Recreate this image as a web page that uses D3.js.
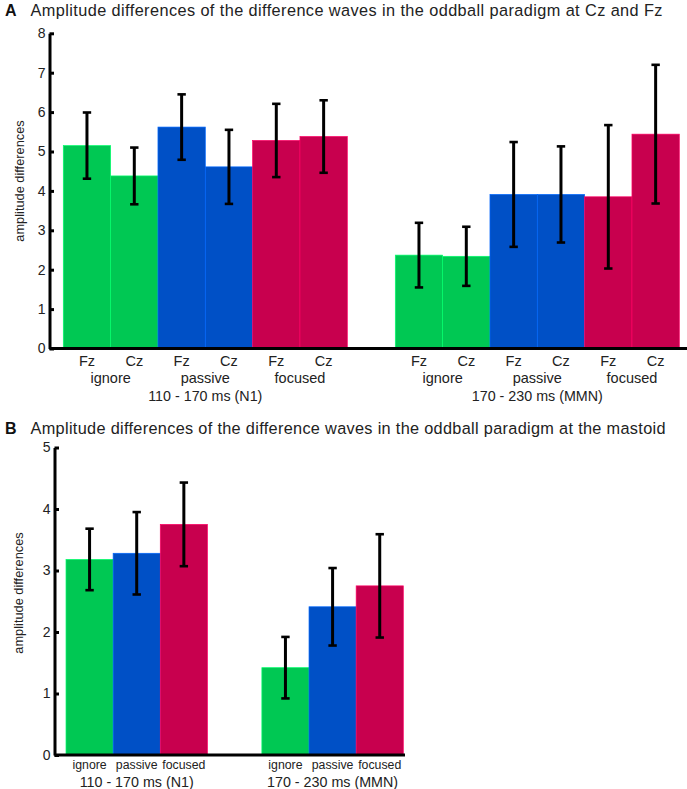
<!DOCTYPE html>
<html>
<head>
<meta charset="utf-8">
<script src="https://cdn.jsdelivr.net/npm/d3@7/dist/d3.min.js"></script>
<style>
  html, body { margin: 0; padding: 0; background: #fff; }
  svg { display: block; font-family: "Liberation Sans", Arial, sans-serif; }
</style>
</head>
<body>
<svg id="chart" width="687" height="789"></svg>
<script>
// ---------- DATA ----------
const timeWindows = ["110 - 170 ms (N1)", "170 - 230 ms (MMN)"];
const conditions = ["ignore", "passive", "focused"];
const electrodes = ["Fz", "Cz"];
const conditionColors = ["#00c853", "#0050c6", "#c8004e"];

// Panel A: order Fz/Cz within ignore, passive, focused
const valuesA_N1  = [5.15, 4.38, 5.62, 4.61, 5.28, 5.38];
const errorsA_N1  = [0.84, 0.72, 0.83, 0.94, 0.93, 0.92];
const valuesA_MMN = [2.37, 2.34, 3.91, 3.91, 3.85, 5.44];
const errorsA_MMN = [0.82, 0.75, 1.33, 1.22, 1.82, 1.76];
const ticksA = [0, 1, 2, 3, 4, 5, 6, 7, 8];

// Panel B: ignore, passive, focused
const valuesB_N1  = [3.18, 3.28, 3.75];
const errorsB_N1  = [0.50, 0.67, 0.68];
const valuesB_MMN = [1.42, 2.41, 2.75];
const errorsB_MMN = [0.50, 0.63, 0.84];
const ticksB = [0, 1, 2, 3, 4, 5];

const titleA = "Amplitude differences of the difference waves in the oddball paradigm at Cz and Fz";
const titleB = "Amplitude differences of the difference waves in the oddball paradigm at the mastoid";
const yLabel = "amplitude differences";

// ---------- DRAW ----------
const svg = d3.select("#chart");

function panel(opts) {
  const g = svg.append("g");
  // title
  g.append("text").attr("x", 5).attr("y", opts.titleY)
    .attr("font-size", 16).attr("font-weight", "bold").attr("fill", "#111").text(opts.letter);
  g.append("text").attr("x", 30.5).attr("y", opts.titleY)
    .attr("font-size", 16.3).attr("fill", "#222")
    .attr("textLength", opts.titleLen).attr("lengthAdjust", "spacing").text(opts.title);

  const y = d3.scaleLinear().domain(opts.yDomain).range(opts.yRange);
  const outer = d3.scaleBand().domain(timeWindows).range(opts.xRange)
    .paddingInner(opts.gapPad).paddingOuter(0);
  const inner = d3.scaleBand().domain(d3.range(opts.slots.length)).range([0, outer.bandwidth()]).padding(0);

  // bars
  opts.series.forEach((s, gi) => {
    const gx = outer(timeWindows[gi]);
    s.values.forEach((v, i) => {
      const c = conditionColors[opts.slots[i].cond];
      g.append("rect")
        .attr("x", gx + inner(i)).attr("width", inner.bandwidth())
        .attr("y", y(v)).attr("height", y(0) - y(v))
        .attr("fill", c)
        .attr("stroke", d3.color(c).brighter(0.7)).attr("stroke-width", 0.7);
    });
  });
  // error bars
  opts.series.forEach((s, gi) => {
    const gx = outer(timeWindows[gi]);
    s.values.forEach((v, i) => {
      const cx = gx + inner(i) + inner.bandwidth() / 2;
      const hi = y(v + s.errors[i]), lo = y(v - s.errors[i]);
      g.append("line").attr("x1", cx).attr("x2", cx).attr("y1", hi).attr("y2", lo)
        .attr("stroke", "#000").attr("stroke-width", 3);
      [hi, lo].forEach(yy => g.append("line").attr("x1", cx - 4.2).attr("x2", cx + 4.2)
        .attr("y1", yy).attr("y2", yy).attr("stroke", "#000").attr("stroke-width", 2.6));
    });
  });

  // x axis line
  g.append("line").attr("x1", opts.axisX).attr("x2", opts.xAxisEnd)
    .attr("y1", y(0)).attr("y2", y(0)).attr("stroke", "#000").attr("stroke-width", 3);

  // y axis
  const ya = g.append("g").attr("transform", `translate(${opts.axisX},0)`)
    .call(d3.axisLeft(y).tickValues(opts.ticks).tickFormat(d3.format("d"))
      .tickSizeInner(-4.5).tickSizeOuter(0).tickPadding(4));
  ya.select(".domain").attr("stroke-width", 3).attr("stroke", "#000");
  ya.selectAll(".tick line").attr("stroke-width", 3).attr("stroke", "#000");
  ya.selectAll(".tick text").attr("font-size", 14).attr("fill", "#222")
    .attr("font-family", "Liberation Sans, Arial, sans-serif");
  ya.attr("font-family", null);

  // y label
  g.append("text").attr("transform", `translate(${opts.yLabelX},${opts.yLabelY}) rotate(-90)`)
    .attr("text-anchor", "middle").attr("font-size", 12.8).attr("fill", "#222").text(yLabel);

  // category labels
  timeWindows.forEach((tw, gi) => {
    const gx = outer(tw);
    if (opts.showElectrodes) {
      opts.slots.forEach((sl, i) => {
        g.append("text").attr("x", gx + inner(i) + inner.bandwidth() / 2).attr("y", opts.elecY)
          .attr("text-anchor", "middle").attr("font-size", 14.5).attr("fill", "#222")
          .text(electrodes[sl.elec]);
      });
    }
    conditions.forEach((cnd, ci) => {
      const idx = opts.slots.map((sl, i) => sl.cond === ci ? i : -1).filter(i => i >= 0);
      const x0 = gx + inner(idx[0]);
      const x1 = gx + inner(idx[idx.length - 1]) + inner.bandwidth();
      g.append("text").attr("x", (x0 + x1) / 2).attr("y", opts.condY)
        .attr("text-anchor", "middle").attr("font-size", opts.condSize).attr("fill", "#222").text(cnd);
    });
    g.append("text").attr("x", gx + outer.bandwidth() / 2).attr("y", opts.groupY)
      .attr("text-anchor", "middle").attr("font-size", 14.3).attr("fill", "#222").text(tw);
  });
}

const slotsA = [];
conditions.forEach((c, ci) => electrodes.forEach((e, ei) => slotsA.push({cond: ci, elec: ei})));
const slotsB = conditions.map((c, ci) => ({cond: ci, elec: null}));

panel({
  letter: "A", title: titleA, titleY: 16, titleLen: 632,
  yDomain: [0, 8], yRange: [348.5, 33.3], ticks: ticksA,
  xRange: [63.3, 679.3], gapPad: 0.1446, axisX: 49.5, xAxisEnd: 687,
  slots: slotsA,
  series: [{values: valuesA_N1, errors: errorsA_N1}, {values: valuesA_MMN, errors: errorsA_MMN}],
  yLabelX: 24, yLabelY: 181, showElectrodes: true,
  elecY: 365.5, condY: 382.5, groupY: 401, condSize: 14.5
});

panel({
  letter: "B", title: titleB, titleY: 433.5, titleLen: 635,
  yDomain: [0, 5], yRange: [755, 447.5], ticks: ticksB,
  xRange: [66, 403.3], gapPad: 0.278, axisX: 54.5, xAxisEnd: 405,
  slots: slotsB,
  series: [{values: valuesB_N1, errors: errorsB_N1}, {values: valuesB_MMN, errors: errorsB_MMN}],
  yLabelX: 23, yLabelY: 593, showElectrodes: false,
  condY: 768.5, groupY: 787, condSize: 12.3
});
</script>
</body>
</html>
